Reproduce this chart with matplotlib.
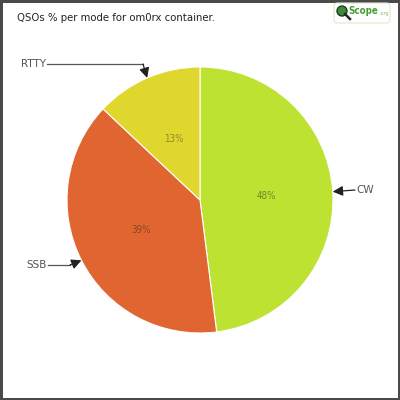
import matplotlib.pyplot as plt
import numpy as np
from matplotlib.patches import Circle, FancyBboxPatch

# ---------------------------------------------------------------- data -----
modes = ["CW", "SSB", "RTTY"]
shares = [48, 39, 13]
colors = ["#BEE232", "#E06530", "#E0D72E"]
pct_colors = ["#6A8A28", "#8A4628", "#8A8A2A"]
title = "QSOs % per mode for om0rx container."

# label anchor (x, y) in pixels, y measured from top; bend point for leader line
label_pos = {"CW": (355, 190), "SSB": (48, 265), "RTTY": (47, 64)}
bend_pos = {"CW": None, "SSB": (70, 265), "RTTY": (143, 64)}

W = H = 400
CX, CY, R = 200, 200, 133

fig = plt.figure(figsize=(4, 4), dpi=100)
fig.patch.set_edgecolor("#4A4A4A")
fig.patch.set_linewidth(2.5)
ax = fig.add_axes([0, 0, 1, 1])

wedges, texts, autotexts = ax.pie(
    shares, colors=colors, startangle=90, counterclock=False,
    center=(CX, H - CY), radius=R, autopct="%d%%", pctdistance=0.5,
    wedgeprops=dict(edgecolor="white", linewidth=0.8),
    textprops=dict(fontsize=7, family="DejaVu Sans", fontstretch="condensed"),
)
for t, c in zip(autotexts, pct_colors):
    t.set_color(c)

ax.set_xlim(0, W)
ax.set_ylim(0, H)
ax.set_aspect("equal")
ax.axis("off")

# outer labels with leader arrows
for w, name in zip(wedges, modes):
    mid = np.deg2rad((w.theta1 + w.theta2) / 2)
    tip = (CX + R * np.cos(mid), H - CY + R * np.sin(mid))
    lx, ly = label_pos[name]
    ly = H - ly
    if name == "CW":
        ax.text(lx + 1, ly, name, ha="left", va="center", fontsize=7.5, color="#555555")
        start = (lx, ly)
    else:
        ax.text(lx - 1, ly, name, ha="right", va="center", fontsize=7.5, color="#555555")
        bx, by = bend_pos[name]
        ax.plot([lx, bx], [ly, H - by], color="#555555", lw=0.9)
        start = (bx, H - by)
    ax.annotate("", xy=tip, xytext=start,
                arrowprops=dict(arrowstyle="-|>,head_length=0.6,head_width=0.3",
                                color="#222222", lw=0.9, shrinkA=0, shrinkB=0))

# title
ax.text(17, H - 18, title, ha="left", va="center", fontsize=8.1, color="#222222",
        fontstretch="condensed")

# logo
ax.add_patch(FancyBboxPatch((334, H - 23), 56, 20, boxstyle="round,pad=0,rounding_size=3",
                            facecolor="white", edgecolor="#E0E8C8", lw=0.8))
ax.add_patch(Circle((342, H - 11), 5, facecolor="#3C8C3C", edgecolor="#1E3E1E", lw=1))
ax.plot([345, 350], [H - 14, H - 19], color="#1E2E1E", lw=1.8)
ax.text(348, H - 11, "Scope", ha="left", va="center", fontsize=7, color="#44A032",
        fontweight="bold", fontstretch="condensed")
ax.text(379, H - 14, ".org", ha="left", va="center", fontsize=3.5, color="#88C070")

fig.savefig("out.png", dpi=100)
